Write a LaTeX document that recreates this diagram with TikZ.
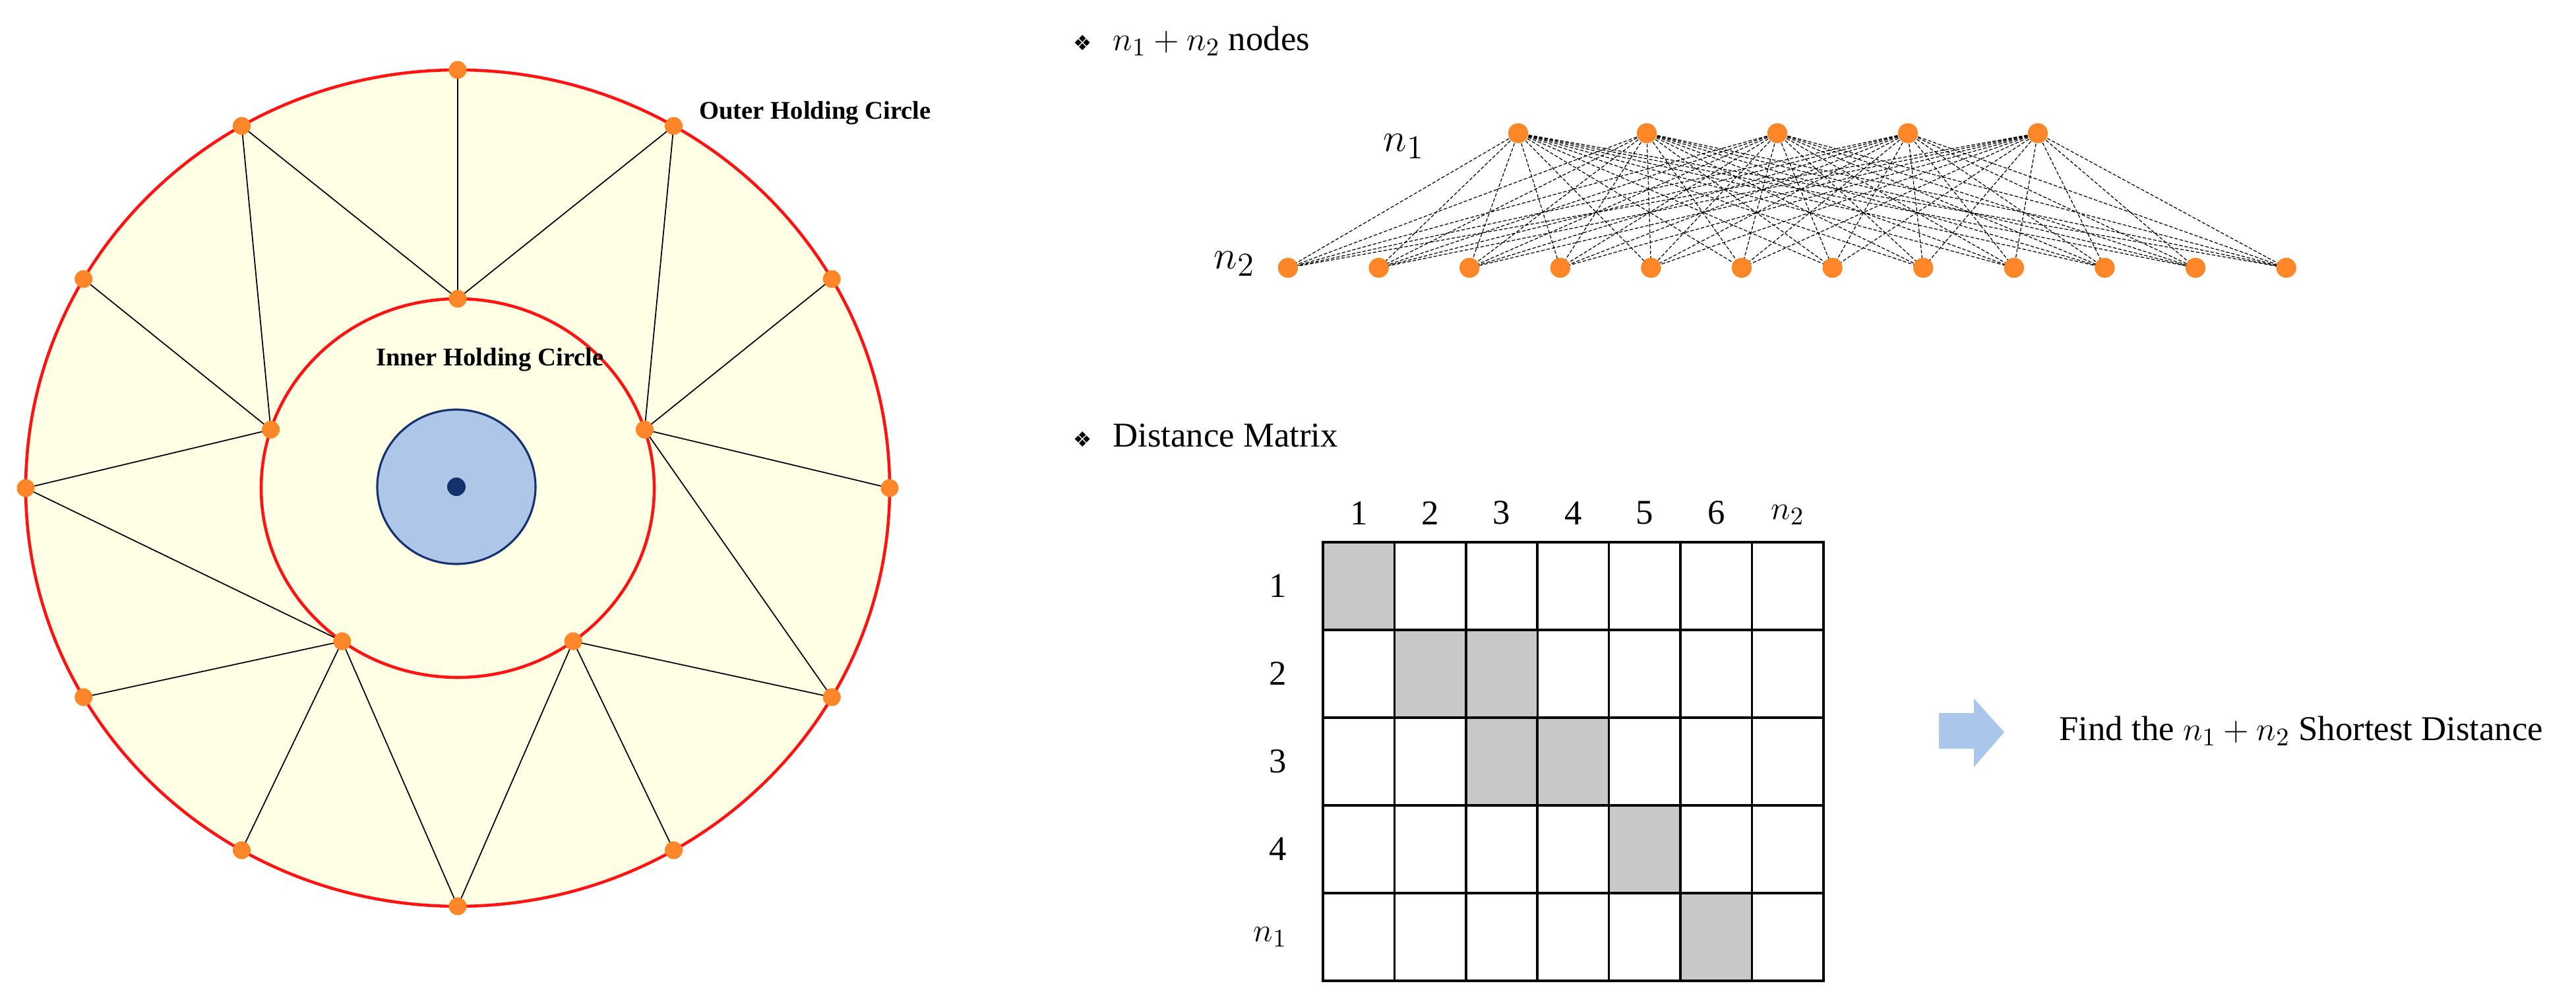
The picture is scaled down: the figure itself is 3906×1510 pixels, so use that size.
\documentclass[tikz,border=0pt]{standalone}
\usepackage{fontspec}
\setmainfont{Liberation Serif}
\newfontfamily\symfont{DejaVu Sans}
\usepackage{tikz}
\usetikzlibrary{calc, shapes, positioning}

\definecolor{pinorange}{RGB}{255,135,40}
\definecolor{holdred}{RGB}{255,20,20}
\definecolor{diskfill}{RGB}{255,255,230}
\definecolor{coreblue}{RGB}{174,198,232}
\definecolor{coreline}{RGB}{20,50,110}
\definecolor{arrowblue}{RGB}{170,198,235}
\definecolor{cellgrey}{RGB}{200,200,200}

\begin{document}
\begin{tikzpicture}[x=0.01cm, y=-0.01cm]
\tikzstyle{hc_pin}=[circle, fill=pinorange, inner sep=0pt, minimum size=2.7mm]
\tikzstyle{bp_pin}=[circle, fill=pinorange, inner sep=0pt, minimum size=3mm]
\tikzstyle{hc_label}=[font=\fontsize{11}{13}\selectfont\bfseries]
\tikzstyle{bp_edge}=[line width=0.35pt, dash pattern=on 1.5pt off 0.8pt]
\tikzstyle{dm_cell}=[draw, line width=1pt, minimum width=10.84mm, minimum height=13.3mm, inner sep=0pt, outer sep=0pt]
\tikzstyle{dm_label}=[font=\fontsize{15}{17}\selectfont]
\tikzstyle{head_text}=[font=\fontsize{15}{17}\selectfont, anchor=west]
\useasboundingbox (0,0) rectangle (3906,1510);

% holding circles
\draw[holdred, line width=1.3pt, fill=diskfill] (694,740) ellipse [x radius=655, y radius=634];
\draw[holdred, line width=1.3pt] (694,740) ellipse [x radius=298, y radius=287];
\draw[coreline, line width=0.9pt, fill=coreblue] (692,738) ellipse [x radius=120, y radius=117];
\fill[coreline] (692,738) circle (14);

\foreach \j in {0,...,11}
	\coordinate (o\j) at ({694+655*cos(90-30*\j)},{740-634*sin(90-30*\j)});
\foreach \k in {0,...,4}
	\coordinate (i\k) at ({694+298*cos(90-72*\k)},{740-287*sin(90-72*\k)});

\foreach \k/\js in {0/{11,0,1}, 1/{1,2,3,4}, 2/{4,5,6}, 3/{6,7,8,9}, 4/{9,10,11}}
	\foreach \j in \js
		\draw[line width=0.5pt] (i\k) -- (o\j);

\foreach \j in {0,...,11} \node[hc_pin] at (o\j) {};
\foreach \k in {0,...,4} \node[hc_pin] at (i\k) {};

\node[hc_label] (outerlbl) at (1236,171) {Outer Holding Circle};
\node[hc_label] (innerlbl) at (743,545) {Inner Holding Circle};

% n1 + n2 nodes
\node[head_text] (nodeshead) at (1615,62) {{\symfont\small ❖}\hspace{0.6em}$n_1+n_2$ nodes};
\foreach \t/\x in {1/2302, 2/2497, 3/2695, 4/2893, 5/3090}
	\node[bp_pin] (t\t) at (\x,202) {};
\foreach \b in {1,...,12}
	\node[bp_pin] (b\b) at ({1953+137.6*(\b-1)},406) {};
\foreach \t in {1,...,5}
	\foreach \b in {1,...,12}
		\draw[bp_edge] (t\t.center) -- (b\b.center);
\foreach \t in {1,...,5} \node[bp_pin] at (t\t) {};
\foreach \b in {1,...,12} \node[bp_pin] at (b\b) {};
\node[font=\fontsize{19}{21}\selectfont] (n1lbl) at (2129,222) {$n_1$};
\node[font=\fontsize{19}{21}\selectfont] (n2lbl) at (1872,400) {$n_2$};

% distance matrix
\node[head_text] (matrixhead) at (1615,660) {{\symfont\small ❖}\hspace{0.6em}Distance Matrix};
\foreach \r in {1,...,5}
	\foreach \c in {1,...,7}
		\node[dm_cell] (c\r-\c) at ({2006+108.4*(\c-0.5)},{822+133*(\r-0.5)}) {};
\foreach \r/\c in {1/1, 2/2, 2/3, 3/3, 3/4, 4/5, 5/6}
	\node[dm_cell, fill=cellgrey] at (c\r-\c) {};
\foreach \c/\txt in {1/1, 2/2, 3/3, 4/4, 5/5, 6/6, 7/$n_2$}
	\node[dm_label, above=4pt of c1-\c.north] {\txt};
\foreach \r/\txt in {1/1, 2/2, 3/3, 4/4, 5/$n_1$}
	\node[dm_label, left=12pt of c\r-1.west] {\txt};

\fill[arrowblue] (2940,1081) -- (2993,1081) -- (2993,1059) -- (3039,1110)
	-- (2993,1163) -- (2993,1135) -- (2940,1135) -- cycle;
\node[dm_label, anchor=west] (result) at (3110,1108) {Find the $n_1+n_2$ Shortest Distance};
\end{tikzpicture}
\end{document}
